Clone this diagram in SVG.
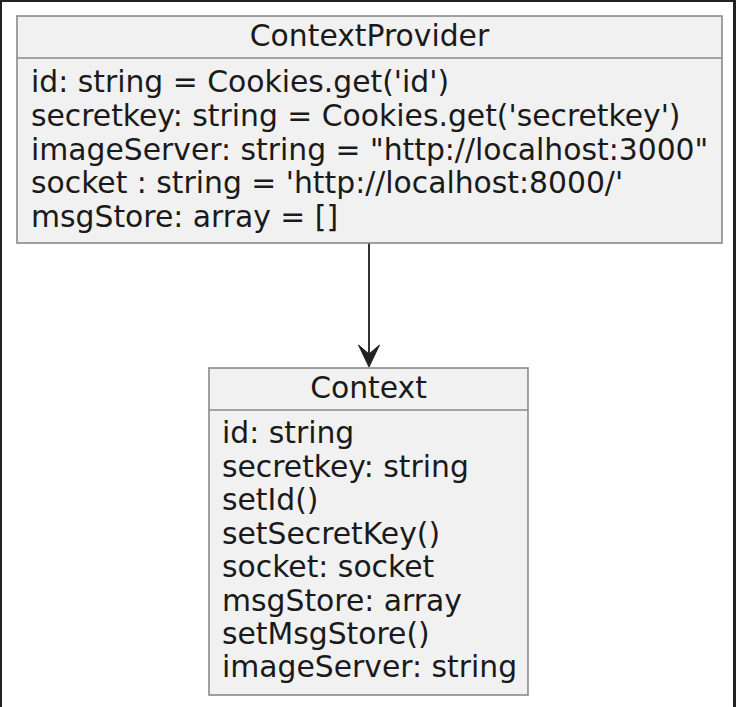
<svg xmlns="http://www.w3.org/2000/svg" width="736" height="707" viewBox="0 0 736 707">
<style>
.box{fill:#F1F1F1;stroke:#8a8a8a;stroke-width:1.6}
.div{stroke:#8a8a8a;stroke-width:1.6}
.t{font-family:"DejaVu Sans",sans-serif;font-size:29.8px;fill:#1a1a1a}
.title{text-anchor:middle}
.edge{stroke:#333;stroke-width:2;fill:none}
.head{fill:#222;stroke:#222;stroke-width:1}
</style>
<rect x="0" y="0" width="736" height="707" fill="#fff"/>
<g id="frame" fill="none" stroke="#222">
<line x1="1" y1="0" x2="1" y2="707" stroke-width="2"/>
<line x1="0" y1="1" x2="736" y2="1" stroke-width="2"/>
<line x1="734.5" y1="0" x2="734.5" y2="707" stroke-width="3"/>
</g>
<g id="connectors">
<path class="edge" d="M369,243 L369,356"/>
<path class="head" d="M369,367 L358.5,345 L369,354 L379.5,345 Z"/>
</g>
<g id="ContextProvider">
<rect class="box" x="17" y="16" width="705" height="227"/>
<line class="div" x1="17" y1="58" x2="722" y2="58"/>
<text class="t title" x="369.5" y="46">ContextProvider</text>
<text class="t" x="31" y="92">id: string = Cookies.get('id')</text>
<text class="t" x="31" y="126">secretkey: string = Cookies.get('secretkey')</text>
<text class="t" x="31" y="160">imageServer: string = "http://localhost:3000"</text>
<text class="t" x="31" y="193">socket : string = 'http://localhost:8000/'</text>
<text class="t" x="31" y="227">msgStore: array = []</text>
</g>
<g id="Context">
<rect class="box" x="209" y="368" width="319" height="327"/>
<line class="div" x1="209" y1="410" x2="528" y2="410"/>
<text class="t title" x="368.5" y="398">Context</text>
<text class="t" x="222" y="443">id: string</text>
<text class="t" x="222" y="476.5">secretkey: string</text>
<text class="t" x="222" y="510">setId()</text>
<text class="t" x="222" y="543.5">setSecretKey()</text>
<text class="t" x="222" y="577">socket: socket</text>
<text class="t" x="222" y="610.5">msgStore: array</text>
<text class="t" x="222" y="644">setMsgStore()</text>
<text class="t" x="222" y="677">imageServer: string</text>
</g>
</svg>
